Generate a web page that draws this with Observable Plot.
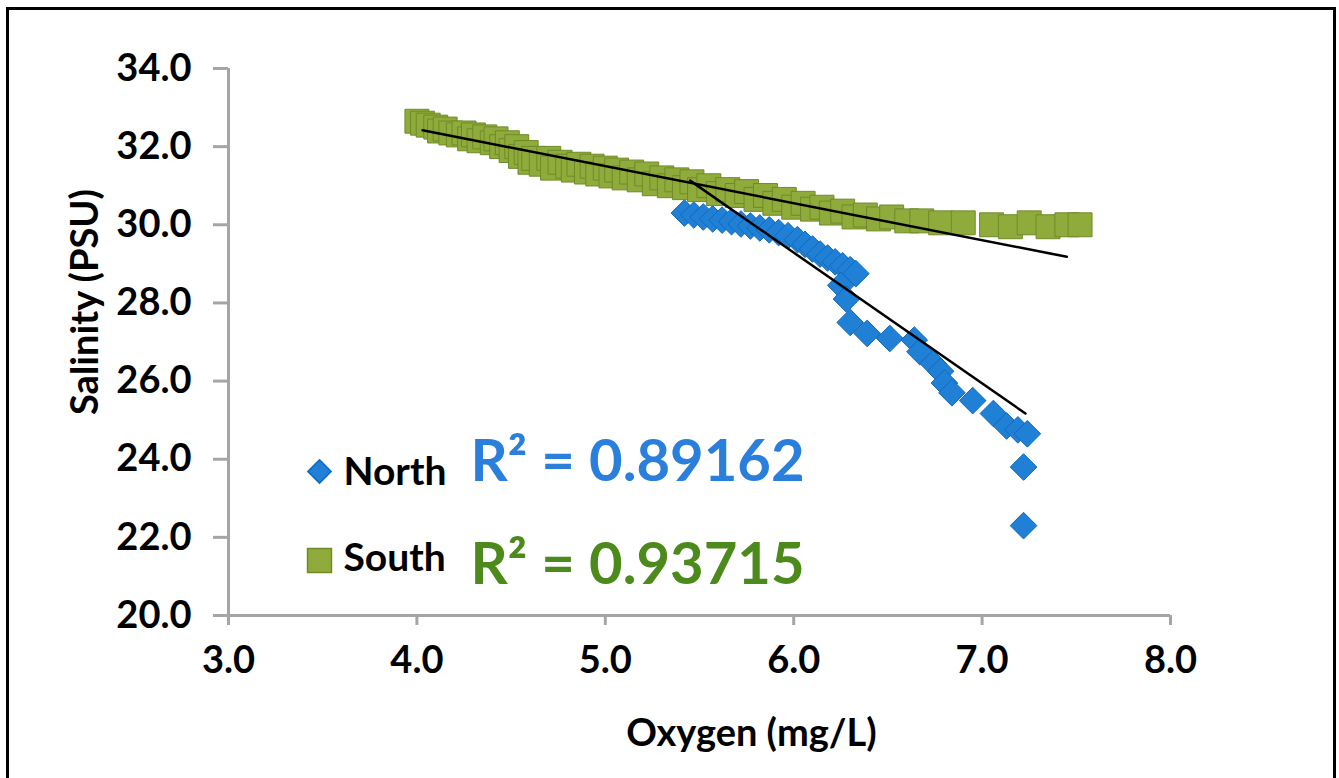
<!DOCTYPE html>
<html>
<head>
<meta charset="utf-8">
<script src="https://cdn.jsdelivr.net/npm/d3@7"></script>
<script src="https://cdn.jsdelivr.net/npm/@observablehq/plot@0.6"></script>
<style>
  html, body { margin: 0; padding: 0; background: #fff; overflow: hidden; }
  #wrap { position: relative; width: 1339px; height: 778px; }
  #frame {
    position: absolute; left: 6px; top: 7px; width: 1330px; height: 820px;
    box-sizing: border-box; border: 3px solid #000; border-bottom: none;
  }
  #chart { position: absolute; left: 0; top: 0; }
</style>
</head>
<body>
<div id="wrap">
  <div id="frame"></div>
  <div id="chart"></div>
</div>
<script>
// Dissolved oxygen (mg/L) vs. salinity (PSU), North and South stations
const xTicks = [3, 4, 5, 6, 7, 8];
const yTicks = [20, 22, 24, 26, 28, 30, 32, 34];

const northOxygen = [5.42, 5.47, 5.52, 5.57, 5.62, 5.67, 5.72, 5.77, 5.82, 5.87, 5.92, 5.97,
  6.02, 6.06, 6.10, 6.14, 6.18, 6.22, 6.26, 6.30, 6.33, 6.25, 6.28, 6.30, 6.39, 6.51,
  6.64, 6.67, 6.74, 6.78, 6.80, 6.84, 6.95, 7.06, 7.13, 7.19, 7.24, 7.22, 7.22];
const northSalinity = [30.30, 30.25, 30.20, 30.15, 30.12, 30.08, 30.02, 29.97, 29.92, 29.87, 29.80, 29.72,
  29.62, 29.50, 29.38, 29.25, 29.15, 29.05, 28.95, 28.85, 28.75, 28.45, 28.10, 27.50, 27.22, 27.09,
  27.05, 26.75, 26.45, 26.25, 25.95, 25.70, 25.50, 25.17, 24.85, 24.75, 24.65, 23.80, 22.30];

const southOxygen = [4.00, 4.03, 4.06, 4.10, 4.12, 4.15, 4.18, 4.22, 4.25, 4.28, 4.30, 4.33,
  4.36, 4.40, 4.42, 4.45, 4.48, 4.50, 4.53, 4.55, 4.58, 4.60, 4.62, 4.66, 4.70, 4.72,
  4.76, 4.80, 4.83, 4.86, 4.90, 4.93, 4.96, 5.00, 5.03, 5.06, 5.10, 5.14, 5.18, 5.22,
  5.26, 5.30, 5.34, 5.38, 5.42, 5.46, 5.50, 5.55, 5.60, 5.65, 5.70, 5.75, 5.80, 5.85,
  5.90, 5.95, 6.00, 6.05, 6.10, 6.15, 6.20, 6.26, 6.32, 6.38, 6.45, 6.52, 6.60, 6.68,
  6.78, 6.90, 7.05, 7.15, 7.25, 7.35, 7.45, 7.52];
const southSalinity = [32.65, 32.60, 32.55, 32.50, 32.40, 32.45, 32.35, 32.30, 32.35, 32.20, 32.30, 32.15,
  32.25, 32.10, 32.20, 32.00, 32.10, 31.90, 32.00, 31.75, 31.85, 31.60, 31.70, 31.55, 31.70, 31.45,
  31.60, 31.50, 31.40, 31.55, 31.35, 31.50, 31.30, 31.45, 31.25, 31.40, 31.20, 31.35, 31.15, 31.30,
  31.05, 31.20, 31.00, 31.15, 30.95, 31.10, 30.90, 31.00, 30.80, 30.90, 30.75, 30.85, 30.65, 30.75,
  30.55, 30.65, 30.45, 30.55, 30.40, 30.45, 30.30, 30.35, 30.20, 30.25, 30.15, 30.20, 30.10, 30.10,
  30.05, 30.05, 30.00, 29.95, 30.05, 29.95, 30.00, 30.00];

// Linear trendlines (end points of each fitted line)
const northTrendX = [5.45, 7.23];
const northTrendY = [31.13, 25.17];
const southTrendX = [4.03, 7.45];
const southTrendY = [32.42, 29.18];

const seriesNames = ["North", "South"];
const rSquared = ["R² = 0.89162", "R² = 0.93715"];

const blue = "#1f80d6";
const blueEdge = "#1469b8";
const green = "#8fab3b";
const greenEdge = "#6f8b28";
const blueText = "#2a7fdc";
const greenText = "#4c8a1c";
const axisGray = "#a5a5a5";
const font = "Lato, 'Open Sans', sans-serif";

const fmt = d => d.toFixed(1);

const chart = Plot.plot({
  width: 1339,
  height: 778,
  marginLeft: 228,
  marginRight: 169,
  marginTop: 68,
  marginBottom: 163,
  x: {domain: [3, 8]},
  y: {domain: [20, 34]},
  style: {fontFamily: font, fontWeight: 700, background: "transparent", color: "#000", overflow: "visible"},
  marks: [
    // axis lines
    Plot.ruleX([3], {stroke: axisGray, strokeWidth: 3}),
    Plot.ruleY([20], {stroke: axisGray, strokeWidth: 3}),
    Plot.axisX({ticks: xTicks, tickFormat: fmt, tickSize: 10, tickPadding: 21, stroke: axisGray, strokeWidth: 3,
      fill: "#000", fontSize: 38, fontWeight: 700, label: null}),
    Plot.axisY({ticks: yTicks, tickFormat: fmt, tickSize: 15, tickPadding: 22, stroke: axisGray, strokeWidth: 3,
      fill: "#000", fontSize: 38, fontWeight: 700, label: null}),
    // axis titles
    Plot.text(["Oxygen (mg/L)"], {frameAnchor: "bottom", dx: 52, dy: 130, fontSize: 38, fontWeight: 700, fill: "#000"}),
    Plot.text(["Salinity (PSU)"], {frameAnchor: "left", dx: -143, dy: 73, rotate: -90, fontSize: 38, fontWeight: 700, fill: "#000"}),
    // data
    Plot.dot(northSalinity, {x: northOxygen, y: northSalinity, symbol: "diamond2", r: 12,
      fill: blue, stroke: blueEdge, strokeWidth: 1}),
    Plot.dot(southSalinity, {x: southOxygen, y: southSalinity, symbol: "square", r: 13.5,
      fill: green, stroke: greenEdge, strokeWidth: 1}),
    // trendlines
    Plot.line(northTrendY, {x: northTrendX, y: northTrendY, stroke: "#000", strokeWidth: 2.5}),
    Plot.line(southTrendY, {x: southTrendX, y: southTrendY, stroke: "#000", strokeWidth: 2.5}),
    // legend
    Plot.dot([seriesNames[0]], {frameAnchor: "bottom-left", dx: 91, dy: -144, symbol: "diamond2", r: 10.5,
      fill: blue, stroke: blueEdge}),
    Plot.dot([seriesNames[1]], {frameAnchor: "bottom-left", dx: 91, dy: -55, symbol: "square", r: 13.5,
      fill: green, stroke: greenEdge}),
    Plot.text([seriesNames[0]], {frameAnchor: "bottom-left", dx: 115, dy: -131, textAnchor: "start",
      fontSize: 39, fontWeight: 700, fill: "#000"}),
    Plot.text([seriesNames[1]], {frameAnchor: "bottom-left", dx: 115, dy: -45, textAnchor: "start",
      fontSize: 39, fontWeight: 700, fill: "#000"}),
    // coefficients of determination
    Plot.text([rSquared[0]], {frameAnchor: "bottom-left", dx: 242, dy: -135, textAnchor: "start",
      fontSize: 58, fontWeight: 700, fill: blueText}),
    Plot.text([rSquared[1]], {frameAnchor: "bottom-left", dx: 242, dy: -32, textAnchor: "start",
      fontSize: 58, fontWeight: 700, fill: greenText})
  ]
});

document.getElementById("chart").appendChild(chart);
</script>
</body>
</html>
